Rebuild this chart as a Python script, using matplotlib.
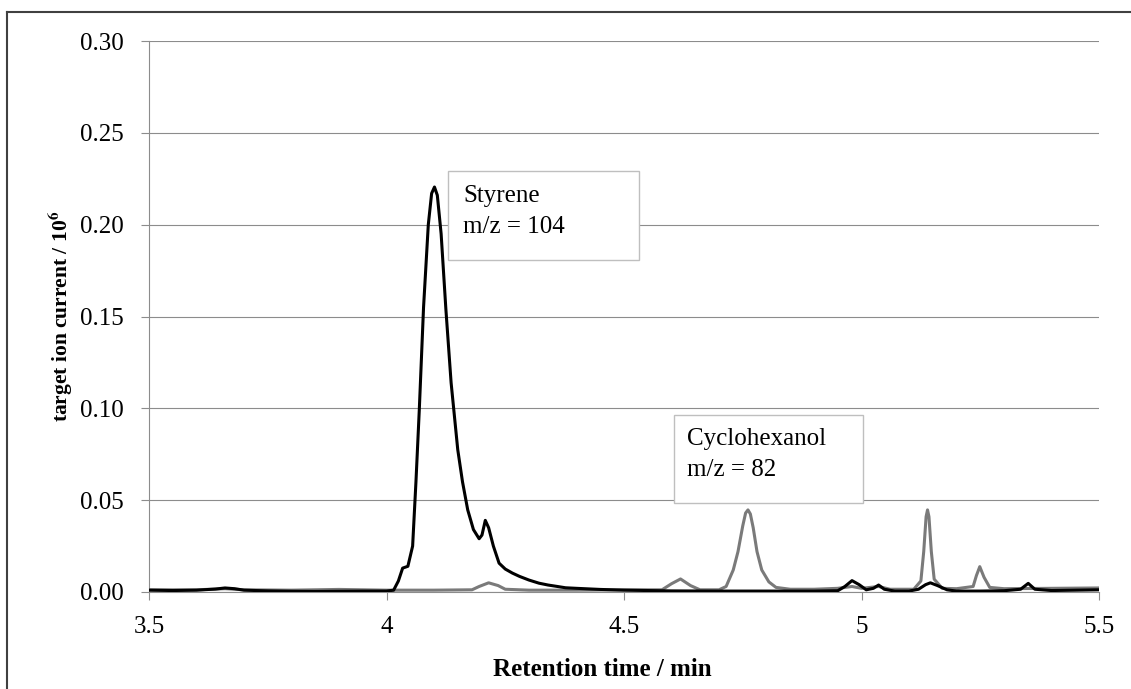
import matplotlib
matplotlib.use("Agg")
import matplotlib.pyplot as plt
from matplotlib.patches import Rectangle
from matplotlib.lines import Line2D
from matplotlib.ticker import FixedLocator, FuncFormatter

plt.rcParams['font.family'] = ['Liberation Serif', 'DejaVu Serif']
plt.rcParams['mathtext.fontset'] = 'stix'

# Styrene trace, m/z = 104 (retention time in min, intensity / 10^6)
styrene_t = [3.50, 3.55, 3.60, 3.64, 3.66, 3.68, 3.70, 3.75, 3.80, 3.85, 3.90, 3.95,
             4.00, 4.015, 4.025, 4.034, 4.045, 4.055, 4.062, 4.069, 4.078, 4.088,
             4.095, 4.101, 4.107, 4.115, 4.125, 4.136, 4.150, 4.160, 4.171, 4.183,
             4.195, 4.201, 4.208, 4.215, 4.225, 4.237, 4.250, 4.265, 4.280, 4.300,
             4.321, 4.340, 4.360, 4.377, 4.400, 4.450, 4.500, 4.550, 4.600, 4.700,
             4.800, 4.900, 4.950, 4.965, 4.980, 4.995, 5.010, 5.025, 5.036, 5.048,
             5.070, 5.100, 5.120, 5.135, 5.145, 5.160, 5.180, 5.200, 5.250, 5.300,
             5.335, 5.351, 5.365, 5.400, 5.450, 5.500]
styrene_i = [0.0010, 0.0008, 0.0010, 0.0016, 0.0022, 0.0018, 0.0010, 0.0006, 0.0004, 0.0003, 0.0004, 0.0005,
             0.0005, 0.0010, 0.0060, 0.0130, 0.0140, 0.0250, 0.0600, 0.0990, 0.1550, 0.2000,
             0.2170, 0.2205, 0.2160, 0.1950, 0.1540, 0.1140, 0.0775, 0.0600, 0.0447, 0.0340,
             0.0290, 0.0310, 0.0390, 0.0350, 0.0250, 0.0157, 0.0125, 0.0103, 0.0085, 0.0065,
             0.0048, 0.0038, 0.0030, 0.0023, 0.0020, 0.0014, 0.0010, 0.0008, 0.0006, 0.0005,
             0.0005, 0.0005, 0.0007, 0.0030, 0.0062, 0.0040, 0.0012, 0.0020, 0.0038, 0.0015,
             0.0005, 0.0005, 0.0015, 0.0040, 0.0050, 0.0035, 0.0012, 0.0005, 0.0005, 0.0007,
             0.0015, 0.0047, 0.0015, 0.0008, 0.0010, 0.0012]

# Cyclohexanol trace, m/z = 82
cyclohexanol_t = [3.50, 3.60, 3.66, 3.70, 3.80, 3.90, 4.00, 4.10, 4.180, 4.195, 4.215, 4.235,
                  4.250, 4.300, 4.400, 4.500, 4.580, 4.600, 4.619, 4.640, 4.660, 4.700,
                  4.715, 4.730, 4.740, 4.750, 4.756, 4.761, 4.766, 4.772, 4.780, 4.790, 4.805, 4.820,
                  4.850, 4.900, 4.950, 4.980, 5.000, 5.036, 5.060, 5.110, 5.125, 5.131,
                  5.136, 5.139, 5.142, 5.147, 5.153, 5.170, 5.200, 5.235, 5.242, 5.249, 5.258, 5.270,
                  5.300, 5.400, 5.500]
cyclohexanol_i = [0.0012, 0.0012, 0.0018, 0.0012, 0.0010, 0.0014, 0.0010, 0.0010, 0.0012, 0.0030, 0.0050, 0.0035,
                  0.0015, 0.0010, 0.0010, 0.0012, 0.0012, 0.0045, 0.0071, 0.0035, 0.0012, 0.0012,
                  0.0030, 0.0120, 0.0220, 0.0360, 0.0430, 0.0447, 0.0425, 0.0350, 0.0220, 0.0120, 0.0055, 0.0025,
                  0.0015, 0.0015, 0.0020, 0.0030, 0.0020, 0.0030, 0.0015, 0.0015, 0.0060, 0.0220,
                  0.0410, 0.0447, 0.0410, 0.0220, 0.0070, 0.0020, 0.0018, 0.0030, 0.0090, 0.0138, 0.0080, 0.0025,
                  0.0018, 0.0020, 0.0022]

x_ticks = [3.5, 4.0, 4.5, 5.0, 5.5]
y_ticks = [0.00, 0.05, 0.10, 0.15, 0.20, 0.25, 0.30]

W, H = 1131, 689
fig = plt.figure(figsize=(W / 100, H / 100), dpi=100)
ax = fig.add_axes([149 / W, 1 - 592 / H, (1099 - 149) / W, (592 - 41) / H])

grid_col = '#8c8c8c'
ax.plot(cyclohexanol_t, cyclohexanol_i, color='#7a7a7a', lw=2.2, zorder=3,
        solid_joinstyle='round', solid_capstyle='round')
ax.plot(styrene_t, styrene_i, color='black', lw=2.2, zorder=3.5,
        solid_joinstyle='round', solid_capstyle='round')

ax.set_xlim(3.5, 5.5)
ax.set_ylim(0, 0.30)
ax.xaxis.set_major_locator(FixedLocator(x_ticks))
ax.yaxis.set_major_locator(FixedLocator(y_ticks))
ax.xaxis.set_major_formatter(FuncFormatter(lambda v, p: f"{v:g}"))
ax.yaxis.set_major_formatter(FuncFormatter(lambda v, p: f"{v:.2f}"))
ax.yaxis.grid(True, color=grid_col, lw=0.8)
ax.set_axisbelow(True)
for s in ['top', 'right']:
    ax.spines[s].set_visible(False)
for s in ['left', 'bottom']:
    ax.spines[s].set_color(grid_col)
    ax.spines[s].set_linewidth(0.8)
ax.tick_params(axis='both', direction='out', length=5.5, width=0.8, color=grid_col,
               labelsize=18, labelcolor='black')
ax.tick_params(axis='y', pad=13)
ax.tick_params(axis='x', pad=12)

ax.set_xlabel('Retention time / min', fontsize=18, fontweight='bold')
ax.set_ylabel(r'target ion current / 10$^{\mathbf{6}}$', fontsize=15.5,
              fontweight='bold')
ax.xaxis.set_label_coords((602 - 149) / (1099 - 149), -(658 - 592) / (592 - 41))
ax.yaxis.set_label_coords(-(149 - 75) / (1099 - 149), 0.5)

# Annotation boxes for the two compounds
box_style = dict(facecolor='white', edgecolor='#bfbfbf', lw=1.0, zorder=5)
ax.add_patch(Rectangle((4.129, 0.1805), 4.531 - 4.129, 0.2291 - 0.1805, **box_style))
ax.text(4.161, 0.2122, 'Styrene', fontsize=18, zorder=6, va='baseline')
ax.text(4.161, 0.1953, 'm/z = 104', fontsize=18, zorder=6, va='baseline')

ax.add_patch(Rectangle((4.605, 0.0486), 5.003 - 4.605, 0.0966 - 0.0486, **box_style))
ax.text(4.633, 0.0802, 'Cyclohexanol', fontsize=18, zorder=6, va='baseline')
ax.text(4.633, 0.0633, 'm/z = 82', fontsize=18, zorder=6, va='baseline')

# Chart frame (top and left edges visible)
fig.add_artist(Line2D([7 / W, 1.0], [1 - 12 / H, 1 - 12 / H], color='#404040', lw=1.5,
                      transform=fig.transFigure))
fig.add_artist(Line2D([7 / W, 7 / W], [1 - 12 / H, 0.0], color='#404040', lw=1.5,
                      transform=fig.transFigure))

fig.savefig('out.png', dpi=100)
